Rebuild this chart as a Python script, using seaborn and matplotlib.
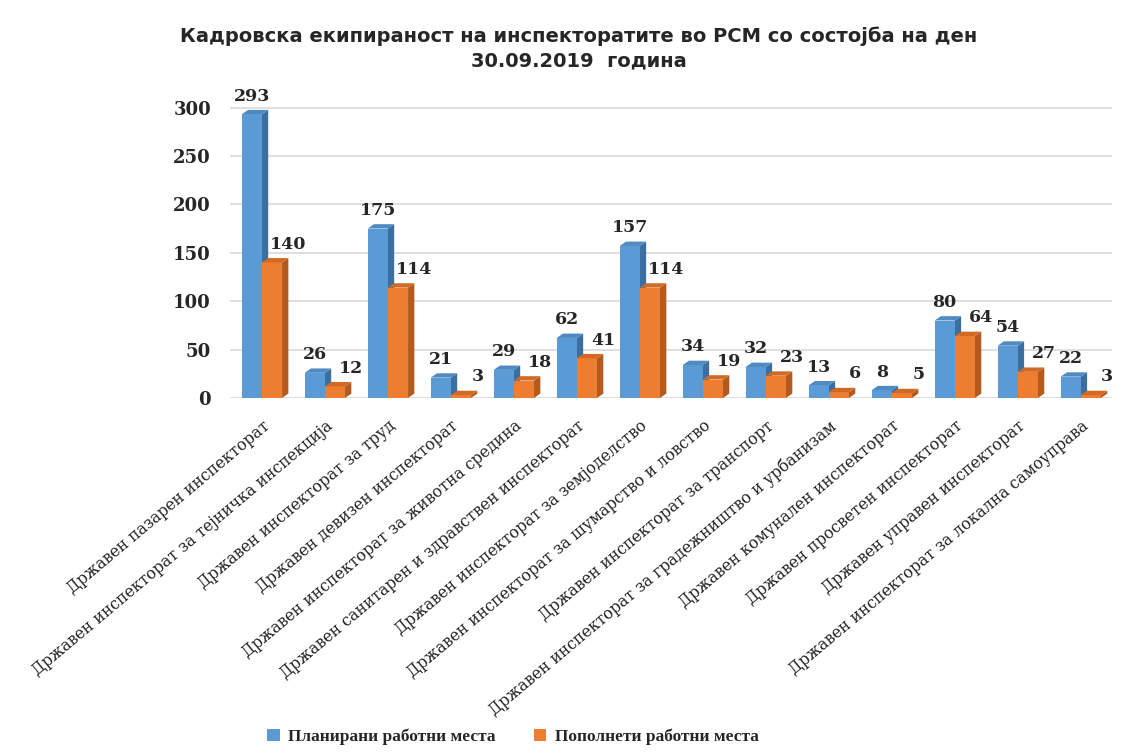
import seaborn as sns
import pandas as pd
import matplotlib.pyplot as plt
from matplotlib.patches import Polygon

categories = [
    'Државен пазарен инспекторат',
    'Државен инспекторат за тејничка инспекција',
    'Државен инспекторат за труд',
    'Државен девизен инспекторат',
    'Државен инспекторат за животна средина',
    'Државен санитарен и здравствен инспекторат',
    'Државен инспекторат за земјоделство',
    'Државен инспекторат за шумарство и ловство',
    'Државен инспекторат за транспорт',
    'Државен инспекторат за градежништво и урбанизам',
    'Државен комунален инспекторат',
    'Државен просветен инспекторат',
    'Државен управен инспекторат',
    'Државен инспекторат за локална самоуправа',
]
planned = [293, 26, 175, 21, 29, 62, 157, 34, 32, 13, 8, 80, 54, 22]
filled = [140, 12, 114, 3, 18, 41, 114, 19, 23, 6, 5, 64, 27, 3]
series_names = ['Планирани работни места', 'Пополнети работни места']
title = 'Кадровска екипираност на инспекторатите во РСМ со состојба на ден\n30.09.2019  година'

colors = {series_names[0]: '#5B9BD5', series_names[1]: '#ED7D31'}
side_colors = ['#3A6FA0', '#B35A1C']
top_colors = ['#4F8AC2', '#D26A24']

df = pd.DataFrame({
    'Инспекторат': categories * 2,
    'Вредност': planned + filled,
    'Серија': [series_names[0]] * len(categories) + [series_names[1]] * len(categories),
})

sns.set_style('white')
plt.rcParams['font.family'] = ['DejaVu Serif']

fig = plt.figure(figsize=(11.35, 7.53), dpi=100)
ax = fig.add_axes([0.203, 0.4715, 0.777, 0.405])

sns.barplot(data=df, x='Инспекторат', y='Вредност', hue='Серија', palette=colors,
            width=0.64, gap=0, saturation=1, ax=ax, legend=True, zorder=3,
            linewidth=0, edgecolor='none')

# fake 3D depth on each bar
dx, dy = 0.1, 4.5
n = len(categories)
for j, p in enumerate(ax.patches[:2 * n]):
    s = j // n
    x0, w, h = p.get_x(), p.get_width(), p.get_height()
    side = Polygon([(x0 + w, 0), (x0 + w + dx, dy), (x0 + w + dx, h + dy), (x0 + w, h)],
                   closed=True, facecolor=side_colors[s], edgecolor='none', zorder=2.9 + s * 0.5)
    top = Polygon([(x0, h), (x0 + dx, h + dy), (x0 + w + dx, h + dy), (x0 + w, h)],
                  closed=True, facecolor=top_colors[s], edgecolor='none', zorder=2.9 + s * 0.5)
    ax.add_patch(side)
    ax.add_patch(top)

# value labels
for j, p in enumerate(ax.patches[:2 * n]):
    s = j // n
    x0, w, h = p.get_x(), p.get_width(), p.get_height()
    if s == 0:
        ax.text(x0 + w / 2, h + 10, f'{int(h)}', ha='center', va='bottom',
                fontsize=12.5, fontweight='bold', zorder=5)
    else:
        ax.text(x0 + w + 0.1, h + 10, f'{int(h)}', ha='center', va='bottom',
                fontsize=12.5, fontweight='bold', zorder=5)

ax.set_ylim(0, 315)
ax.set_xlim(-0.5, n - 0.5)
ax.set_yticks([0, 50, 100, 150, 200, 250, 300])
ax.yaxis.grid(True, color='#D9D9D9', linewidth=1.2, zorder=0)
ax.set_axisbelow(True)
for sp in ax.spines.values():
    sp.set_visible(False)
ax.set_xlabel('')
ax.set_ylabel('')
ax.tick_params(axis='y', length=0, pad=14, labelsize=13)
for lab in ax.get_yticklabels():
    lab.set_fontweight('bold')
ax.tick_params(axis='x', length=0, pad=14)
ax.set_xticks(range(n))
ax.set_xticklabels(categories, rotation=40, ha='right', rotation_mode='anchor',
                   fontsize=11.3, color='#222222')

fig.suptitle(title, x=0.51, y=0.965, fontsize=14, fontweight='bold',
             family='DejaVu Sans', linespacing=1.35)

handles, labels = ax.get_legend_handles_labels()
ax.get_legend().remove()
leg = fig.legend(handles, labels, loc='center', bbox_to_anchor=(0.452, 0.021), ncol=2,
                 frameon=False, handlelength=0.7, handleheight=0.7, columnspacing=2.2,
                 handletextpad=0.5, prop={'family': 'Liberation Serif', 'weight': 'bold', 'size': 12.5})

fig.savefig('out.png', dpi=100)
